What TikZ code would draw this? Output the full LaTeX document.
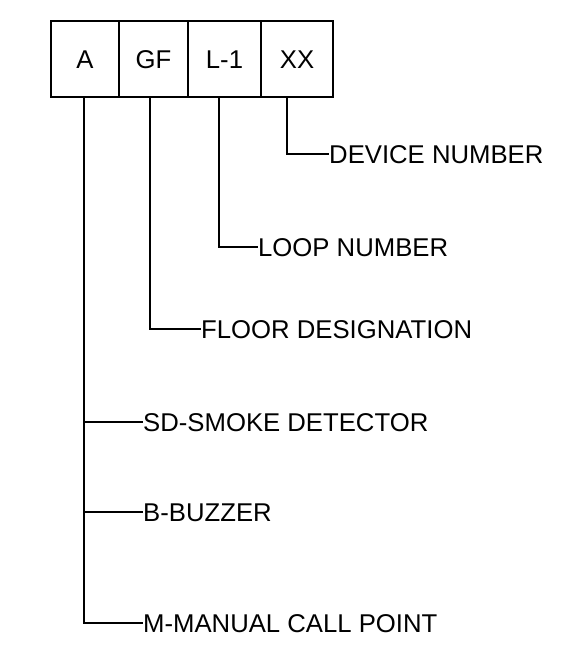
\documentclass[tikz,border=0pt]{standalone}
\usepackage{fontspec}
\setmainfont{Liberation Sans}
\begin{document}
\begin{tikzpicture}[x=1pt,y=-1pt,
  every node/.style={font=\fontsize{25.7}{30}\selectfont, text height=18.4pt, text depth=0pt, inner sep=0pt},
  cell/.style={draw, line width=1.3pt, minimum height=76pt, anchor=center},
  lbl/.style={anchor=west},
  conn/.style={line width=1.3pt}]
\useasboundingbox (0,0) rectangle (585,652);
\node[cell, minimum width=68pt] (a) at (85,59) {A};
\node[cell, minimum width=69pt] (gf) at (153.5,59) {GF};
\node[cell, minimum width=73pt] (l1) at (224.5,59) {L-1};
\node[cell, minimum width=72pt] (xx) at (297,59) {XX};
\node[lbl] (dev) at (329,154) {DEVICE NUMBER};
\node[lbl] (loop) at (258,247) {LOOP NUMBER};
\node[lbl] (floor) at (201,329) {FLOOR DESIGNATION};
\node[lbl] (sd) at (143,422) {SD-SMOKE DETECTOR};
\node[lbl] (bz) at (143,512) {B-BUZZER};
\node[lbl] (mc) at (143,623) {M-MANUAL CALL POINT};
\coordinate (pa) at ([xshift=-1pt]a.south);
\coordinate (pgf) at ([xshift=-3.5pt]gf.south);
\coordinate (pl1) at ([xshift=-5.5pt]l1.south);
\coordinate (pxx) at ([xshift=-10pt]xx.south);
\draw[conn] (pxx) |- (dev.west);
\draw[conn] (pl1) |- (loop.west);
\draw[conn] (pgf) |- (floor.west);
\draw[conn] (pa) |- (mc.west);
\draw[conn] (pa |- sd.west) -- (sd.west);
\draw[conn] (pa |- bz.west) -- (bz.west);
\end{tikzpicture}
\end{document}
